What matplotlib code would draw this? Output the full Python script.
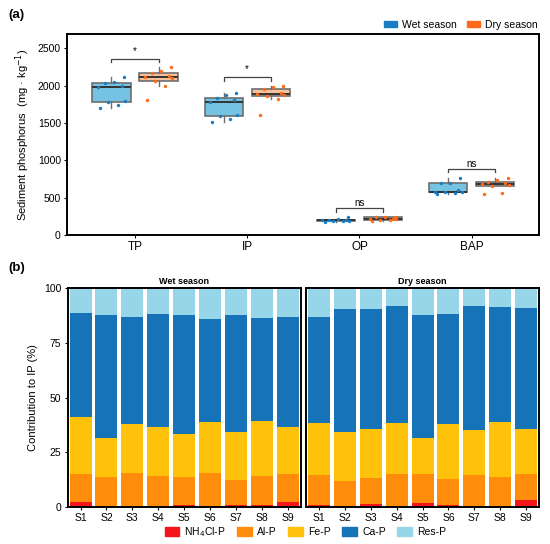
import numpy as np
import matplotlib
matplotlib.use('Agg')
import matplotlib.pyplot as plt
from matplotlib.patches import Patch

plt.rcParams['font.family'] = ['Liberation Sans', 'DejaVu Sans']

## data, panel (a): sediment phosphorus (mg/kg), 9 sites per season
groups = ['TP', 'IP', 'OP', 'BAP']
tp_wet = [1698, 1745, 1786, 1792, 1975, 1988, 2032, 2045, 2118]
tp_dry = [1810, 2000, 2060, 2100, 2115, 2130, 2166, 2200, 2245]
ip_wet = [1506, 1559, 1599, 1605, 1782, 1805, 1840, 1867, 1905]
ip_dry = [1608, 1820, 1858, 1880, 1889, 1900, 1952, 1985, 1992]
op_wet = [180, 185, 188, 192, 195, 200, 205, 210, 240]
op_dry = [190, 195, 205, 210, 215, 220, 235, 240, 246]
bap_wet = [548, 562, 570, 572, 576, 600, 690, 700, 758]
bap_dry = [548, 556, 650, 670, 686, 695, 708, 740, 757]
signif = ['*', '*', 'ns', 'ns']
bracket_y = [2357, 2112, 356, 882]

## data, panel (b): contribution to IP (%)
sites = ['S1', 'S2', 'S3', 'S4', 'S5', 'S6', 'S7', 'S8', 'S9']
fractions = ['NH$_4$Cl-P', 'Al-P', 'Fe-P', 'Ca-P', 'Res-P']
wet_nh4 = [2.5, 0.5, 0.5, 0.2, 0.8, 0.5, 0.9, 0.9, 2.5]
wet_al = [12.4, 13.2, 14.9, 14.1, 13.0, 14.9, 11.5, 13.2, 12.4]
wet_fe = [26.0, 17.8, 22.4, 22.3, 19.5, 23.6, 21.7, 25.4, 21.8]
wet_ca = [47.9, 56.2, 48.8, 51.6, 54.6, 46.7, 53.5, 46.8, 50.2]
wet_res = [11.2, 12.3, 13.4, 11.8, 12.1, 14.3, 12.4, 13.7, 13.1]
dry_nh4 = [0.9, 0.3, 1.2, 0.1, 1.7, 0.8, 0.6, 0.6, 3.4]
dry_al = [13.8, 11.8, 12.0, 15.0, 13.4, 12.1, 13.8, 12.9, 11.5]
dry_fe = [23.5, 22.2, 22.4, 23.1, 16.4, 25.2, 20.9, 25.4, 20.9]
dry_ca = [48.4, 56.2, 55.0, 53.4, 56.4, 50.1, 56.7, 52.5, 55.0]
dry_res = [13.4, 9.5, 9.4, 8.4, 12.1, 11.8, 8.0, 8.6, 9.2]

wet_col, dry_col = '#1a7cc4', '#ff6a1a'
wet_fill, dry_fill = '#74c3e2', '#f9c197'
frac_cols = ['#f5161c', '#ff8c0a', '#ffc20a', '#1673b8', '#96d6e8']

fig = plt.figure(figsize=(5.5, 5.44), dpi=100)

# ---- (a) boxplots
ax = fig.add_axes([0.122, 0.568, 0.858, 0.3695])
wet_all = [tp_wet, ip_wet, op_wet, bap_wet]
dry_all = [tp_dry, ip_dry, op_dry, bap_dry]
x = np.arange(len(groups))
dodge = 0.21
jit = [-0.10, 0.06, -0.03, 0.12, -0.12, 0.09, -0.06, 0.02, 0.11]

for data, off, fill, pcol in [(wet_all, -dodge, wet_fill, wet_col),
                              (dry_all, dodge, dry_fill, dry_col)]:
    bp = ax.boxplot(data, positions=x + off, widths=0.34, patch_artist=True,
                    showfliers=False, showcaps=False, whis=1.5,
                    boxprops=dict(facecolor=fill, edgecolor='#6e6e6e', linewidth=1.2),
                    whiskerprops=dict(color='#6e6e6e', linewidth=1.0),
                    medianprops=dict(color='#333333', linewidth=1.4))
    for i, vals in enumerate(data):
        ax.scatter(x[i] + off + np.array(jit), vals, s=6, color=pcol, zorder=3,
                   linewidths=0)

for i in range(len(groups)):
    y0 = bracket_y[i]
    tip = 45 if i < 2 else 42
    ax.plot([x[i] - dodge, x[i] - dodge, x[i] + dodge, x[i] + dodge],
            [y0 - tip, y0, y0, y0 - tip], color='#444444', lw=0.9)
    if signif[i] == '*':
        ax.text(x[i], y0 + 40, '*', ha='center', va='bottom', fontsize=7)
    else:
        ax.text(x[i], y0 + 5, 'ns', ha='center', va='bottom', fontsize=7)

ax.set_xlim(-0.605, 3.6)
ax.set_ylim(0, 2690)
ax.set_xticks(x)
ax.set_xticklabels(groups, fontsize=8.5)
ax.set_yticks([0, 500, 1000, 1500, 2000, 2500])
ax.tick_params(axis='y', labelsize=7.5, length=2.5, width=0.8, pad=2)
ax.tick_params(axis='x', length=2.5, width=0.8, pad=2)
ax.set_ylabel('Sediment phosphorus  (mg · kg$^{-1}$)', fontsize=8)
for s in ax.spines.values():
    s.set_linewidth(1.4)

fig.legend(handles=[Patch(color=wet_col, label='Wet season'),
                    Patch(color=dry_col, label='Dry season')],
           loc='lower right', bbox_to_anchor=(0.985, 0.937), ncol=2,
           frameon=False, fontsize=7.5, handlelength=1.2, handleheight=0.5,
           columnspacing=1.0, handletextpad=0.5, borderaxespad=0)
fig.text(0.015, 0.972, '(a)', fontsize=9.5, fontweight='bold', va='center')

# ---- (b) stacked bars
axw = fig.add_axes([0.123, 0.068, 0.4237, 0.4025])
axd = fig.add_axes([0.5564, 0.068, 0.4236, 0.4025])
xs = np.arange(1, len(sites) + 1)
for axb, parts, title in [(axw, [wet_nh4, wet_al, wet_fe, wet_ca, wet_res], 'Wet season'),
                          (axd, [dry_nh4, dry_al, dry_fe, dry_ca, dry_res], 'Dry season')]:
    bottom = np.zeros(len(sites))
    for vals, col in zip(parts, frac_cols):
        axb.bar(xs, vals, width=0.85, bottom=bottom, color=col, linewidth=0)
        bottom += np.array(vals)
    axb.set_xlim(0.5, 9.5)
    axb.set_ylim(0, 100)
    axb.set_xticks(xs)
    axb.set_xticklabels(sites, fontsize=7.5)
    axb.set_yticks([0, 25, 50, 75, 100])
    axb.tick_params(axis='both', labelsize=7.5, length=2.5, width=0.8, pad=2)
    axb.set_title(title, fontsize=6.5, fontweight='bold', pad=3)
    for s in axb.spines.values():
        s.set_linewidth(1.4)
axd.tick_params(axis='y', left=False, labelleft=False)
axw.set_ylabel('Contribution to IP (%)', fontsize=8)

fig.legend(handles=[Patch(color=c, label=l) for c, l in zip(frac_cols, fractions)],
           loc='center', bbox_to_anchor=(0.555, 0.022), ncol=5, frameon=False,
           fontsize=7.5, handlelength=1.4, handleheight=0.9, columnspacing=1.1,
           handletextpad=0.5)
fig.text(0.015, 0.507, '(b)', fontsize=9.5, fontweight='bold', va='center')

plt.savefig('out.png', dpi=100)
